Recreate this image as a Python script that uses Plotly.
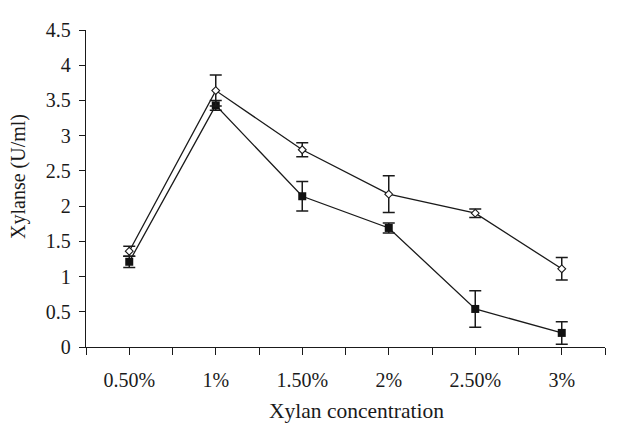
import plotly.graph_objects as go

categories = ["0.50%", "1%", "1.50%", "2%", "2.50%", "3%"]
open_vals = [1.36, 3.64, 2.80, 2.17, 1.90, 1.11]
open_err = [0.07, 0.22, 0.10, 0.26, 0.06, 0.16]
filled_vals = [1.21, 3.43, 2.14, 1.69, 0.54, 0.20]
filled_err = [0.08, 0.07, 0.21, 0.07, 0.26, 0.16]
y_ticks = [0, 0.5, 1, 1.5, 2, 2.5, 3, 3.5, 4, 4.5]
y_tick_labels = ["0", "0.5", "1", "1.5", "2", "2.5", "3", "3.5", "4", "4.5"]
x_title = "Xylan concentration"
y_title = "Xylanse (U/ml)"

xpos = list(range(len(categories)))

fig = go.Figure()
fig.add_trace(go.Scatter(
    x=xpos, y=filled_vals, mode="lines+markers",
    line=dict(color="#1a1a1a", width=1.3),
    marker=dict(symbol="square", size=8, color="#111111"),
    error_y=dict(type="data", array=filled_err, visible=True, color="#1a1a1a", thickness=1.5, width=6),
    showlegend=False,
))
fig.add_trace(go.Scatter(
    x=xpos, y=open_vals, mode="lines+markers",
    line=dict(color="#1a1a1a", width=1.3),
    marker=dict(symbol="diamond", size=6, color="white", line=dict(color="#1a1a1a", width=1.1)),
    error_y=dict(type="data", array=open_err, visible=True, color="#1a1a1a", thickness=1.5, width=6),
    showlegend=False,
))

tickvals = [i * 0.5 - 0.5 for i in range(13)]
ticktext = []
for v in tickvals:
    if abs(v - round(v)) < 1e-9 and 0 <= round(v) < len(categories):
        ticktext.append(categories[int(round(v))])
    else:
        ticktext.append("")

font_family = "Liberation Serif, Times New Roman, serif"
fig.update_layout(
    width=618, height=415,
    margin=dict(l=78, r=21, t=11, b=76),
    paper_bgcolor="white", plot_bgcolor="white",
    font=dict(family=font_family, size=20, color="#1a1a1a"),
    xaxis=dict(
        range=[-0.5, 5.5], tickmode="array", tickvals=tickvals, ticktext=ticktext,
        ticks="outside", ticklen=7, tickwidth=1.3, tickcolor="#1a1a1a",
        showline=True, linecolor="#1a1a1a", linewidth=1.3,
        showgrid=False, zeroline=False,
        ticklabelstandoff=8,
        tickfont=dict(size=20),
    ),
    yaxis=dict(
        range=[0, 4.5], tickmode="array", tickvals=y_ticks, ticktext=y_tick_labels,
        ticks="outside", ticklen=6, tickwidth=1.3, tickcolor="#1a1a1a",
        showline=True, linecolor="#1a1a1a", linewidth=1.3,
        showgrid=False, zeroline=False,
        ticklabelstandoff=4,
        tickfont=dict(size=20),
    ),
    annotations=[
        dict(text=x_title, xref="paper", yref="paper", x=0.522, y=-0.202,
             xanchor="center", yanchor="middle", showarrow=False,
             font=dict(size=21.5, family=font_family, color="#1a1a1a")),
        dict(text=y_title, xref="paper", yref="paper", x=-0.130, y=0.538,
             xanchor="center", yanchor="middle", textangle=-90, showarrow=False,
             font=dict(size=20, family=font_family, color="#1a1a1a")),
    ],
)

fig.write_html("out.html")
